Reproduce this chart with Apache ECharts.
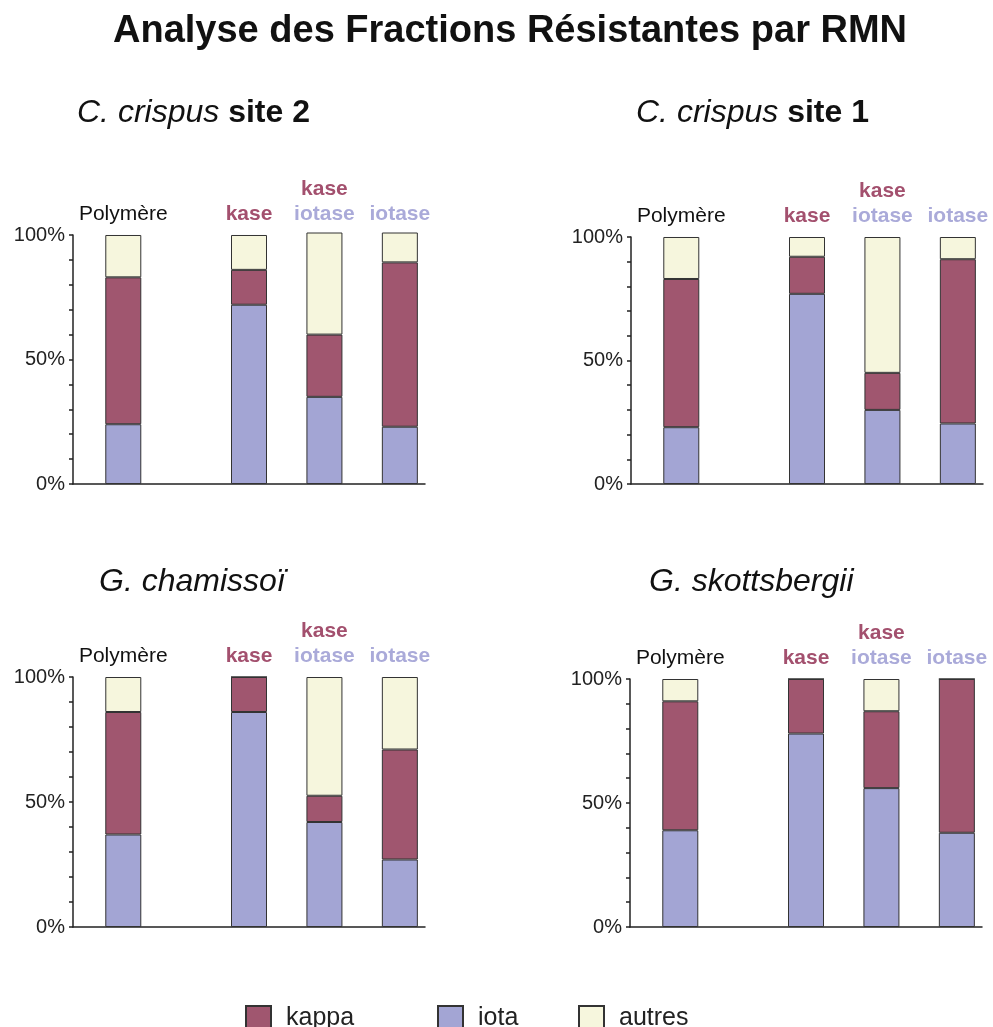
<!DOCTYPE html>
<html>
<head>
<meta charset="utf-8">
<title>Analyse des Fractions Résistantes par RMN</title>
<script src="https://cdn.jsdelivr.net/npm/echarts@6/dist/echarts.min.js"></script>
<style>
  html, body { margin: 0; padding: 0; background: #fff; }
  #chart { width: 993px; height: 1027px; }
</style>
</head>
<body>
<div id="chart"></div>
<script>
// data (% of the fraction)
var categories = ['Polymère', 'kase', 'kase iotase', 'iotase'];
var seriesNames = ['iota', 'kappa', 'autres'];

// C. crispus site 2
var iota1   = [24, 72, 35, 23];
var kappa1  = [59, 14, 25, 66];
var autres1 = [17, 14, 41, 12];
// C. crispus site 1
var iota2   = [23, 77, 30, 24.5];
var kappa2  = [60, 15, 15, 66.5];
var autres2 = [17, 8, 55, 9];
// G. chamissoï
var iota3   = [37, 86, 42, 27];
var kappa3  = [49, 14, 10.5, 44];
var autres3 = [14, 0, 47.5, 29];
// G. skottsbergii
var iota4   = [39, 78, 56, 38];
var kappa4  = [52, 22, 31, 62];
var autres4 = [9, 0, 13, 0];

var yTicks = [0, 50, 100];

// layout: bars are not evenly spaced, so they sit on some slots of a wider axis
var N_SLOTS = 15;
var slotOf = [2, 7, 10, 13];

var COLORS = { kappa: '#a0566f', iota: '#a3a5d4', autres: '#f6f6dd' };
var FONT = 'Liberation Sans, Arial, sans-serif';

var panels = [
  { grid: { left: 73, top: 235, width: 352, height: 249 }, data: [iota1, kappa1, autres1],
    sub: '{i|C. crispus }{b|site 2}', subPos: [77, 97] },
  { grid: { left: 631, top: 237, width: 352, height: 247 }, data: [iota2, kappa2, autres2],
    sub: '{i|C. crispus }{b|site 1}', subPos: [636, 97] },
  { grid: { left: 73, top: 677, width: 352, height: 250 }, data: [iota3, kappa3, autres3],
    sub: '{i|G. chamissoï}', subPos: [99, 566] },
  { grid: { left: 630, top: 679, width: 352, height: 248 }, data: [iota4, kappa4, autres4],
    sub: '{i|G. skottsbergii}', subPos: [649, 566] }
];

function slotData(arr) {
  var out = [];
  for (var i = 0; i < N_SLOTS; i++) out.push(null);
  for (var j = 0; j < arr.length; j++) out[slotOf[j]] = arr[j];
  return out;
}

var axisCats = slotData(categories).map(function (c) { return c == null ? '' : c; });

function topLabel(v) {
  if (v == 'Polymère') return '{p|Polymère}';
  if (v == 'kase') return '{k|kase}';
  if (v == 'kase iotase') return '{k|kase}\n{i|iotase}';
  if (v == 'iotase') return '{i|iotase}';
  return '';
}

var option = {
  animation: false,
  backgroundColor: '#fff',
  title: [{
    text: 'Analyse des Fractions Résistantes par RMN',
    left: 510, top: 13, textAlign: 'center', padding: 0,
    textStyle: { fontFamily: FONT, fontSize: 38, fontWeight: 'bold', color: '#111' }
  }],
  grid: [], xAxis: [], yAxis: [], series: [],
  legend: []
};

var legendLeft = [240, 432, 573];
['kappa', 'iota', 'autres'].forEach(function (name, i) {
  option.legend.push({
    data: [name], left: legendLeft[i], top: 1000,
    itemWidth: 25, itemHeight: 25, icon: 'rect',
    textStyle: { fontFamily: FONT, fontSize: 25, color: '#222', padding: [0, 0, 0, 10] }
  });
});

panels.forEach(function (p, k) {
  option.title.push({
    text: p.sub, left: p.subPos[0], top: p.subPos[1], padding: 0,
    textStyle: {
      fontFamily: FONT, fontSize: 32, fontWeight: 'normal', color: '#111',
      rich: {
        i: { fontFamily: FONT, fontSize: 32, fontStyle: 'italic', fontWeight: 'normal', color: '#111' },
        b: { fontFamily: FONT, fontSize: 32, fontStyle: 'normal', fontWeight: 'bold', color: '#111' }
      }
    }
  });

  option.grid.push(p.grid);

  option.xAxis.push({
    type: 'category', gridIndex: k, data: axisCats, boundaryGap: false,
    axisLine: { lineStyle: { color: '#222', width: 1.5 } },
    axisTick: { show: false }, axisLabel: { show: false }, splitLine: { show: false }
  });
  option.xAxis.push({
    type: 'category', gridIndex: k, data: axisCats, boundaryGap: false, position: 'top',
    axisLine: { show: false }, axisTick: { show: false }, splitLine: { show: false },
    axisLabel: {
      interval: 0, margin: 8, formatter: topLabel,
      rich: {
        p: { fontFamily: FONT, fontSize: 21, color: '#111', lineHeight: 25 },
        k: { fontFamily: FONT, fontSize: 21, fontWeight: 'bold', color: '#a3506e', lineHeight: 25 },
        i: { fontFamily: FONT, fontSize: 21, fontWeight: 'bold', color: '#aaaad9', lineHeight: 25 }
      }
    }
  });

  option.yAxis.push({
    type: 'value', gridIndex: k, min: yTicks[0], max: yTicks[yTicks.length - 1],
    interval: yTicks[1] - yTicks[0],
    axisLine: { show: true, lineStyle: { color: '#222', width: 1.5 } },
    axisTick: { show: true, length: 4, lineStyle: { color: '#222', width: 1.5 } },
    minorTick: { show: true, splitNumber: 5, length: 4, lineStyle: { color: '#222', width: 1.5 } },
    splitLine: { show: false },
    axisLabel: { formatter: '{value}%', fontFamily: FONT, fontSize: 20, color: '#222', margin: 8 }
  });

  seriesNames.forEach(function (name, s) {
    option.series.push({
      name: name, type: 'bar', stack: 'p' + k,
      xAxisIndex: k * 2, yAxisIndex: k,
      barWidth: 36, clip: false,
      itemStyle: { color: COLORS[name], borderColor: '#333', borderWidth: 1 },
      emphasis: { disabled: true },
      data: slotData(p.data[s])
    });
  });
});

var myChart = echarts.init(document.getElementById('chart'));
myChart.setOption(option);
</script>
</body>
</html>
